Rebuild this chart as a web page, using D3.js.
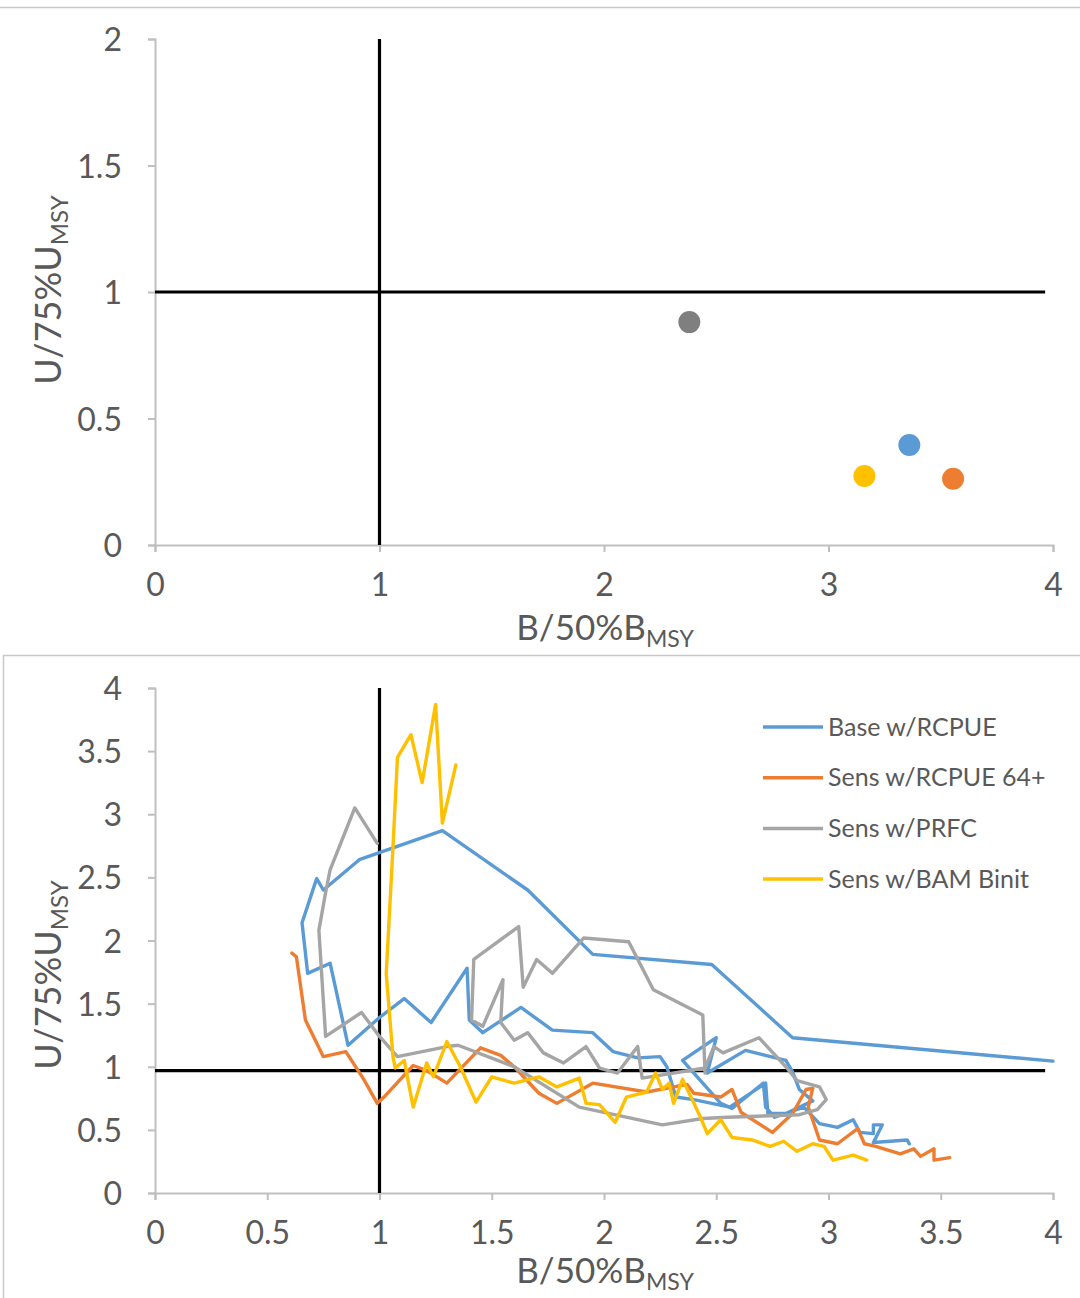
<!DOCTYPE html>
<html><head><meta charset="utf-8">
<script src="https://cdn.jsdelivr.net/npm/d3@7"></script>
<style>
html,body{margin:0;padding:0;background:#fff;}
text{font-family:Lato,"Open Sans","Noto Sans",sans-serif;fill:#595959;}
</style></head>
<body>
<svg id="chart" width="1080" height="1298"></svg>
<script>
// ---- Data ----
const seriesNames = ["Base w/RCPUE","Sens w/RCPUE 64+","Sens w/PRFC","Sens w/BAM Binit"];
const seriesColors = ["#5b9bd5","#ed7d31","#a5a5a5","#ffc000"];
const pointColors = ["#5b9bd5","#ed7d31","#7f7f7f","#ffc000"];
// terminal-year status (top panel)
const termB = [3.36, 3.555, 2.38, 3.16];
const termU = [0.395, 0.262, 0.881, 0.273];
// top panel ticks
const topXTicks = [0,1,2,3,4];
const topYTicks = [0,0.5,1,1.5,2];
// bottom panel ticks
const botXTicks = [0,0.5,1,1.5,2,2.5,3,3.5,4];
const botYTicks = [0,0.5,1,1.5,2,2.5,3,3.5,4];
const refBtop = 1, refUtop = 1;
const refBbot = 1, refUbot = 0.97;
// trajectories (bottom panel)
const baseB = [4.0,2.84,2.48,1.95,1.66,1.28,0.91,0.75,0.72,0.655,0.68,0.78,0.86,1.0,1.11,1.23,1.39,1.40,1.46,1.63,1.77,1.95,2.04,2.15,2.25,2.28,2.32,2.40,2.56,2.72,2.73,2.81,2.93,2.87,2.84,2.81,2.63,2.46,2.50,2.35,2.52,2.57,2.71,2.72,2.76,2.89,2.96,3.04,3.11,3.14,3.20,3.20,3.24,3.20,3.35,3.36];
const baseU = [1.045,1.23,1.81,1.89,2.40,2.87,2.64,2.40,2.49,2.14,1.74,1.82,1.17,1.39,1.54,1.35,1.78,1.37,1.27,1.47,1.29,1.27,1.12,1.07,1.08,1.00,0.76,0.74,0.68,0.87,0.63,0.63,0.73,0.82,0.96,1.05,1.13,0.95,1.23,1.05,0.71,0.67,0.87,0.68,0.60,0.68,0.55,0.52,0.58,0.48,0.47,0.54,0.54,0.40,0.42,0.39];
const rc64B = [0.61,0.63,0.67,0.75,0.85,0.93,0.99,1.02,1.15,1.21,1.30,1.45,1.54,1.60,1.71,1.79,1.95,2.19,2.37,2.40,2.52,2.57,2.61,2.75,2.84,2.90,2.93,2.91,2.96,3.04,3.13,3.16,3.21,3.32,3.38,3.41,3.47,3.47,3.54];
const rc64U = [1.90,1.87,1.37,1.08,1.12,0.90,0.71,0.76,1.01,0.97,0.87,1.15,1.09,1.00,0.79,0.71,0.87,0.80,0.86,0.79,0.76,0.82,0.64,0.48,0.63,0.82,0.83,0.68,0.42,0.39,0.51,0.39,0.37,0.31,0.35,0.29,0.35,0.26,0.28];
const prfcB = [0.99,0.89,0.78,0.76,0.73,0.76,0.92,1.0,1.08,1.30,1.35,1.60,1.89,2.26,2.44,2.55,2.87,2.95,2.99,2.96,2.86,2.81,2.69,2.53,2.49,2.45,2.17,2.15,2.06,1.98,1.92,1.82,1.73,1.66,1.60,1.54,1.55,1.46,1.41,1.42,1.62,1.64,1.70,1.77,1.91,2.11,2.22,2.44,2.45];
const prfcU = [2.77,3.05,2.56,2.38,2.08,1.24,1.43,1.24,1.08,1.16,1.17,1.00,0.68,0.54,0.59,0.60,0.62,0.66,0.74,0.84,0.89,1.00,1.23,1.11,1.16,0.99,0.91,1.16,0.95,0.99,1.16,1.03,1.11,1.27,1.21,1.35,1.69,1.32,1.37,1.85,2.11,1.63,1.85,1.74,2.02,1.99,1.61,1.41,0.95];
const bamB = [1.34,1.28,1.25,1.19,1.14,1.08,1.06,1.03,1.06,1.07,1.11,1.15,1.21,1.24,1.30,1.36,1.43,1.50,1.60,1.71,1.79,1.89,1.92,1.98,2.05,2.10,2.19,2.23,2.26,2.29,2.31,2.35,2.43,2.46,2.52,2.57,2.66,2.74,2.80,2.86,2.93,2.98,3.02,3.11,3.17];
const bamU = [3.39,2.93,3.87,3.25,3.63,3.45,2.74,1.74,1.08,0.99,1.05,0.68,1.03,0.92,1.20,1.00,0.72,0.92,0.87,0.92,0.84,0.91,0.71,0.70,0.56,0.76,0.80,0.95,0.82,0.87,0.71,0.90,0.60,0.47,0.58,0.44,0.42,0.37,0.41,0.33,0.39,0.37,0.26,0.30,0.26];

const trajB = [baseB, rc64B, prfcB, bamB];
const trajU = [baseU, rc64U, prfcU, bamU];
const drawOrder = [0,1,2,3];

const svg = d3.select("#chart");
const axisColor = "#bfbfbf";

// panel borders
svg.append("line").attr("x1",0).attr("x2",1080).attr("y1",7.5).attr("y2",7.5).attr("stroke","#c8c8c8").attr("stroke-width",1.5);
svg.append("rect").attr("x",3.5).attr("y",655.5).attr("width",1090).attr("height",660).attr("fill","none").attr("stroke","#c8c8c8").attr("stroke-width",1.5);

function panel(cfg){
  const x = d3.scaleLinear().domain([0,4]).range([155,1053]);
  const y = d3.scaleLinear().domain(cfg.yDomain).range(cfg.yRange);
  const g = svg.append("g");
  const xa = g.append("g").attr("transform",`translate(0,${y(0)})`)
    .call(d3.axisBottom(x).tickValues(cfg.xTicks).tickSize(7).tickPadding(21).tickFormat(d=>d3.format("~g")(d)));
  const ya = g.append("g").attr("transform",`translate(${x(0)},0)`)
    .call(d3.axisLeft(y).tickValues(cfg.yTicks).tickSize(7).tickPadding(26).tickFormat(d=>d3.format("~g")(d)));
  [xa,ya].forEach(a=>{
    a.select(".domain").attr("stroke",axisColor).attr("stroke-width",2);
    a.selectAll(".tick line").attr("stroke",axisColor).attr("stroke-width",2);
    a.selectAll(".tick text").attr("fill","#595959").style("font-size","32px");
  });
  ya.selectAll(".tick text").attr("dy","0.36em");
  g.append("line").attr("x1",x(0)).attr("x2",x(3.965)).attr("y1",y(cfg.refU)).attr("y2",y(cfg.refU))
    .attr("stroke","#000").attr("stroke-width",3.2);
  g.append("line").attr("x1",x(cfg.refB)).attr("x2",x(cfg.refB)).attr("y1",y(0)).attr("y2",y(cfg.yDomain[1]))
    .attr("stroke","#000").attr("stroke-width",3.2);
  const xt = g.append("text").attr("x",605).attr("y",cfg.xTitleY).attr("text-anchor","middle").style("font-size","35px");
  xt.append("tspan").text("B/50%B");
  xt.append("tspan").text("MSY").attr("dy",7).style("font-size","23px");
  const yt = g.append("text").attr("transform",`translate(61,${cfg.yTitleC}) rotate(-90)`).attr("text-anchor","middle").style("font-size","36px");
  yt.append("tspan").text("U/75%U");
  yt.append("tspan").text("MSY").attr("dy",7).style("font-size","24px");
  return {x,y,g};
}

// Top panel
const topP = panel({yDomain:[0,2], yRange:[545,39], xTicks:topXTicks, yTicks:topYTicks, refU:refUtop, refB:refBtop, xTitleY:640, yTitleC:290});
const pts = d3.range(termB.length).map(i=>({b:termB[i],u:termU[i],c:pointColors[i]}));
topP.g.selectAll("circle.pt").data(pts).join("circle").attr("class","pt")
  .attr("cx",d=>topP.x(d.b)).attr("cy",d=>topP.y(d.u)).attr("r",11).attr("fill",d=>d.c);

// Bottom panel
const botP = panel({yDomain:[0,4], yRange:[1193,688], xTicks:botXTicks, yTicks:botYTicks, refU:refUbot, refB:refBbot, xTitleY:1283, yTitleC:975});
const lineGen = d3.line().x(d=>botP.x(d[0])).y(d=>botP.y(d[1]));
drawOrder.forEach(i=>{
  const data = trajB[i].map((b,j)=>[b,trajU[i][j]]);
  botP.g.append("path").datum(data).attr("d",lineGen).attr("fill","none")
    .attr("stroke",seriesColors[i]).attr("stroke-width",3.4).attr("stroke-linejoin","round").attr("stroke-linecap","round");
});
const lg = botP.g.append("g");
seriesNames.forEach((n,i)=>{
  const yy = 727 + i*50.7;
  lg.append("line").attr("x1",763).attr("x2",823).attr("y1",yy).attr("y2",yy).attr("stroke",seriesColors[i]).attr("stroke-width",3.5);
  lg.append("text").attr("x",828).attr("y",yy).attr("dy","0.35em").style("font-size","25px").text(n);
});
</script>
</body></html>
